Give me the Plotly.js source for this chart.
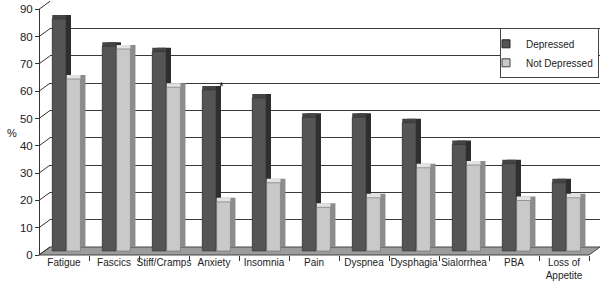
<!DOCTYPE html>
<html>
<head>
<meta charset="utf-8">
<script src="https://cdn.plot.ly/plotly-3.0.1.min.js"></script>
<style>html,body{margin:0;padding:0;background:#fff;}#chart{width:600px;height:287px;}</style>
</head>
<body>
<div id="chart"></div>
<script>
// ---- data ----
const categories = ['Fatigue','Fascics','Stiff/Cramps','Anxiety','Insomnia','Pain','Dyspnea','Dysphagia','Sialorrhea','PBA','Loss of<br>Appetite'];
const depressed    = [85, 75, 73, 59, 56, 49, 49, 47, 39, 32, 25];
const notDepressed = [63, 74, 60, 18, 25, 16, 19.5, 30.5, 31.5, 18.5, 19.5];
const yTicks = [0, 10, 20, 30, 40, 50, 60, 70, 80, 90];
const gridTicks = [10, 20, 30, 40, 50, 60, 70, 80];
const seriesNames = ['Depressed', 'Not Depressed'];

// ---- geometry (pixels) ----
const W = 600, H = 287;
const yTopPx = 9.3, yBotPx = 255;
const pxPerUnit = (yBotPx - yTopPx) / 90;
const depthX = 11, depthY = 8;
const frontX = 39;
const catPx = 50;
const barShiftY = 4 / pxPerUnit;
const barShiftX = 5 / catPx;
const yDom = [1 - yBotPx / H, 1 - yTopPx / H];
const xDom = [(frontX + depthX) / W, 1];

const px = x => x / W, py = y => 1 - y / H;

const DARK = {front:'#555555', top:'#444444', side:'#2e2e2e', line:'#333333'};
const LIGHT = {front:'#c9c9c9', top:'#e3e3e3', side:'#8c8c8c', line:'#6a6a6a'};
const W_BAR = 0.275;
const OFF = [-0.281, 0.008];

function barSet(vals, col, off) {
  const common = {type:'bar', x: categories, y: vals, width: W_BAR, xaxis:'x2', yaxis:'y2',
                  showlegend:false, hoverinfo:'skip'};
  return [
    Object.assign({}, common, {base: barShiftY, offset: off + barShiftX, marker:{color: col.side, line:{width:0}}}),
    Object.assign({}, common, {base: barShiftY, offset: off, marker:{color: col.top, line:{width:0}}}),
    Object.assign({}, common, {base: 0, offset: off, marker:{color: col.front, line:{width:0.6, color: col.line}}})
  ];
}

const traces = [
  {type:'scatter', x:[0], y:[null], xaxis:'x', yaxis:'y', showlegend:false, hoverinfo:'skip'},
  ...barSet(depressed, DARK, OFF[0]),
  ...barSet(notDepressed, LIGHT, OFF[1]),
  {type:'bar', x: categories, y: depressed, xaxis:'x3', yaxis:'y3', marker:{opacity:0},
   showlegend:false, hoverinfo:'skip'},
  {type:'scatter', mode:'markers', x:[null], y:[null], xaxis:'x2', yaxis:'y2', name: seriesNames[0],
   marker:{symbol:'square', size:8, color: DARK.front, line:{width:1, color:'#222'}}},
  {type:'scatter', mode:'markers', x:[null], y:[null], xaxis:'x2', yaxis:'y2', name: seriesNames[1],
   marker:{symbol:'square', size:8, color: LIGHT.front, line:{width:1, color:'#444'}}}
];

const shapes = [];
shapes.push({type:'path', xref:'paper', yref:'paper', layer:'below',
  path: `M ${px(frontX)},${py(yBotPx)} L ${px(frontX + 11*catPx)},${py(yBotPx)} L ${px(frontX + 11*catPx + depthX)},${py(yBotPx - depthY)} L ${px(frontX + depthX)},${py(yBotPx - depthY)} Z`,
  fillcolor:'#9c9c9c', line:{color:'#444', width:1}});
yTicks.forEach(v => {
  const yf = yBotPx - v * pxPerUnit;
  shapes.push({type:'line', xref:'paper', yref:'paper', layer:'below',
    x0: px(frontX), y0: py(yf), x1: px(frontX + depthX), y1: py(yf - depthY),
    line:{color:'#333', width:1}});
});

const layout = {
  width: W, height: H,
  margin: {l:0, r:0, t:0, b:0, autoexpand:false},
  paper_bgcolor:'#ffffff', plot_bgcolor:'rgba(0,0,0,0)',
  font: {family:'"Liberation Sans", Arial, sans-serif', size:10, color:'#222'},
  barmode:'overlay',
  showlegend:true,
  xaxis: {domain: xDom, range:[0,1], visible:false, fixedrange:true},
  yaxis: {domain: yDom, range:[-depthY/pxPerUnit, 90 - depthY/pxPerUnit], tickmode:'array', tickvals: gridTicks,
          showgrid:true, gridcolor:'#3a3a3a', gridwidth:1, showticklabels:false, ticks:'', showline:false,
          zeroline:false, fixedrange:true},
  xaxis2: {overlaying:'x', type:'category', range:[-0.326, 10.674], visible:false, fixedrange:true},
  yaxis2: {overlaying:'y', range:[-barShiftY, 90 - barShiftY], visible:false, fixedrange:true},
  xaxis3: {overlaying:'x', anchor:'y3', type:'category', range:[-0.28, 10.72], tickson:'boundaries', tickangle:0,
           ticks:'outside', ticklen:5, tickcolor:'#333', tickwidth:1, showline:false, showgrid:false,
           zeroline:false, tickfont:{size:10, color:'#222'}, fixedrange:true},
  yaxis3: {overlaying:'y', anchor:'free', position: px(frontX), side:'left', range:[0,90], tickmode:'array',
           tickvals: yTicks, ticks:'outside', ticklen:4, tickcolor:'#333', showline:true, linecolor:'#333',
           linewidth:1, showgrid:false, zeroline:false, tickfont:{size:11.5, color:'#222'}, fixedrange:true},
  legend: {x: px(599), y: py(28.3), xanchor:'right', yanchor:'top', bgcolor:'#fff', bordercolor:'#444',
           borderwidth:1, font:{size:10, color:'#222'}, tracegroupgap:0, indentation:-15, itemwidth:30},
  shapes: shapes,
  annotations: [
    {text:'%', xref:'paper', yref:'paper', x: px(5), y: py(133), showarrow:false, font:{size:11, color:'#222'}},
    {text:'*', xref:'paper', yref:'paper', x: px(221.7), y: py(78), showarrow:false, font:{size:12, color:'#222'}}
  ]
};

Plotly.newPlot('chart', traces, layout, {staticPlot:true, displayModeBar:false});
</script>
</body>
</html>
